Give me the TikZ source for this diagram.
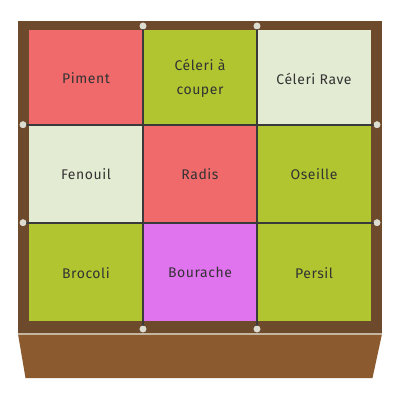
\documentclass[tikz,border=0pt]{standalone}
\usepackage{fontspec}
\setmainfont[LetterSpace=4]{Fira Sans}
\definecolor{frame}{HTML}{6D4A2B}
\definecolor{base}{HTML}{8B5A2E}
\definecolor{cred}{HTML}{F06A6C}
\definecolor{cgreen}{HTML}{B0C530}
\definecolor{clight}{HTML}{E3EBD2}
\definecolor{cpink}{HTML}{E073EE}
\definecolor{grid}{HTML}{3A3A3A}
\definecolor{dot}{HTML}{DCDCD0}
\definecolor{txt}{HTML}{333333}
\tikzset{
  cell/.style={minimum width=114pt*0.75,minimum height=97pt*0.75,inner sep=0pt,anchor=center,
    font=\fontsize{10.5}{17.5}\selectfont,text=txt,align=center},
  gridline/.style={draw=grid,line width=1.8pt},
  pin/.style={circle,fill=dot,minimum size=5pt,inner sep=0pt}
}
\begin{document}
\begin{tikzpicture}[x=0.75pt,y=-0.75pt]
\useasboundingbox (0,0) rectangle (400,400);
% base trapezoid
\fill[base] (18,334) -- (382,334) -- (372.5,378) -- (25.5,378) -- cycle;
\draw[dot!70!base,line width=0.8pt] (18,334) -- (382,334);
% frame
\fill[frame] (18,21) rectangle (382,333);
% cells
\node[cell,fill=cred] (c11) at (86,78.5) {Piment};
\node[cell,fill=cgreen] (c12) at (200,78.5) {Céleri à\\couper};
\node[cell,fill=clight] (c13) at (314,78.5) {Céleri Rave};
\node[cell,fill=clight] (c21) at (86,173.7) {Fenouil};
\node[cell,fill=cred] (c22) at (200,173.7) {Radis};
\node[cell,fill=cgreen] (c23) at (314,173.7) {Oseille};
\node[cell,fill=cgreen] (c31) at (86,272.7) {Brocoli};
\node[cell,fill=cpink] (c32) at (200,272.7) {Bourache};
\node[cell,fill=cgreen] (c33) at (314,272.7) {Persil};
% pins
\node[pin] (pt1) at (143,26) {};
\node[pin] (pt2) at (257,26) {};
\node[pin] (pb1) at (143,329) {};
\node[pin] (pb2) at (257,329) {};
\node[pin] (pl1) at (23,124.7) {};
\node[pin] (pl2) at (23,222.7) {};
\node[pin] (pr1) at (377,124.7) {};
\node[pin] (pr2) at (377,222.7) {};
% grid lines
\draw[gridline] (pt1.center) -- (pb1.center);
\draw[gridline] (pt2.center) -- (pb2.center);
\draw[gridline] (pl1.center) -- (pr1.center);
\draw[gridline] (pl2.center) -- (pr2.center);
\foreach \p in {pt1,pt2,pb1,pb2,pl1,pl2,pr1,pr2}
  \fill[dot] (\p) circle (2.5pt);
\end{tikzpicture}
\end{document}
